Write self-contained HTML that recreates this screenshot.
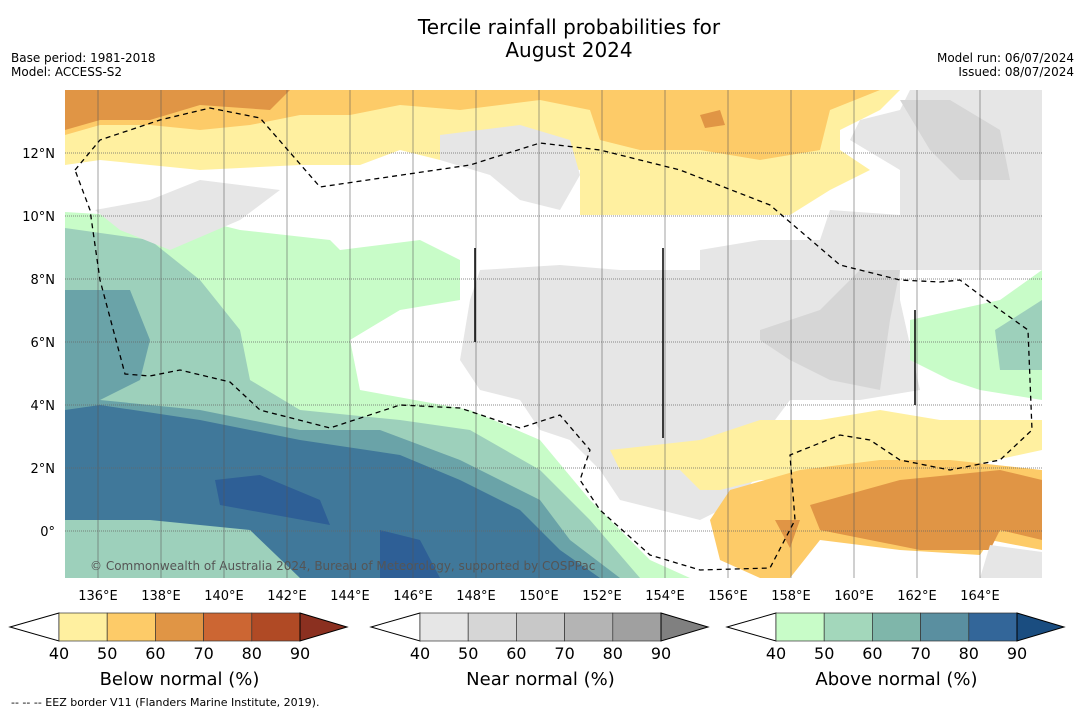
<!DOCTYPE html>
<html><head><meta charset="utf-8"><style>
body{margin:0;background:#fff;font-family:"Liberation Sans","DejaVu Sans",sans-serif;}
svg{display:block}
</style></head><body>
<svg id="s" width="1085" height="713" viewBox="0 0 1085 713" xmlns="http://www.w3.org/2000/svg" font-family="DejaVu Sans, Liberation Sans, sans-serif">
<text x="569" y="34" text-anchor="middle" font-size="20">Tercile rainfall probabilities for</text>
<text x="569" y="57" text-anchor="middle" font-size="20">August 2024</text>
<text x="11" y="62" font-size="12">Base period: 1981-2018</text>
<text x="11" y="76" font-size="12">Model: ACCESS-S2</text>
<text x="1074" y="62" font-size="12" text-anchor="end">Model run: 06/07/2024</text>
<text x="1074" y="76" font-size="12" text-anchor="end">Issued: 08/07/2024</text>
<defs><clipPath id="mc"><rect x="65" y="90" width="977" height="488"/></clipPath></defs>
<g id="map" clip-path="url(#mc)">
<rect x="65" y="90" width="977" height="488" fill="#fff"/>
</g>
<g id="axes"></g>
<g id="cbars"></g>
<text x="11" y="706" font-size="11">--  --  -- EEZ border V11 (Flanders Marine Institute, 2019).</text>
</svg>
<script>
const NS="http://www.w3.org/2000/svg";
const lonTicks=[136,138,140,142,144,146,148,150,152,154,156,158,160,162,164];
const latTicks=[0,2,4,6,8,10,12];
const levels=[40,50,60,70,80,90];
const belowColors=["#fff0a0","#fdcb68","#e09545","#cc6633","#b04a25","#8b3020"];
const nearColors=["#e6e6e6","#d6d6d6","#c8c8c8","#b4b4b4","#a0a0a0","#808080"];
const aboveColors=["#c8fcc8","#a3d7bb","#7fb6aa","#5a8fa0","#336699","#1a4d80"];
const X=lon=>66.5+(lon-135)*31.5;
const Y=lat=>531-lat*31.5;
const map=document.getElementById('map'),axes=document.getElementById('axes'),cb=document.getElementById('cbars');
function poly(g,pts,fill,name){const p=document.createElementNS(NS,'polygon');p.setAttribute('points',pts);p.setAttribute('fill',fill);


g.appendChild(p);return p;}
const regions=[
["65,212 200,220 240,230 330,240 340,250 420,240 460,260 460,300 400,310 350,340 360,390 470,410 540,440 590,500 650,560 690,578 65,578","#c8fcc8","above-40"],
["65,228 150,240 200,280 240,330 250,380 300,410 400,420 470,430 540,470 590,520 640,578 65,578","#9dd0bb","above-50"],
["65,290 130,290 150,340 140,380 100,400 200,410 300,430 380,430 460,460 540,500 570,540 620,578 65,578","#6aa3a8","above-60"],
["65,410 100,405 200,420 300,440 400,455 460,480 520,510 560,550 600,578 65,578","#40789a","above-70"],
["65,520 150,520 250,530 300,578 65,578","#9dd0bb","above-50-sw"],
["215,480 260,475 320,500 330,525 220,505","#2e5f96","above-80-a"],
["380,530 420,540 440,578 380,578","#2e5f96","above-80-b"],
["65,90 900,90 880,110 840,130 840,150 870,170 830,190 790,215 720,215 650,215 580,215 580,170 520,165 490,160 440,160 400,150 360,165 300,165 200,170 150,165 100,160 65,165","#fff0a0","below-40-north"],
["65,90 880,90 830,110 820,150 760,160 700,150 640,150 600,140 590,110 540,100 460,110 400,105 350,115 300,115 250,125 200,130 150,125 100,125 65,135","#fdcb68","below-50-north"],
["65,90 290,90 270,110 200,105 150,120 100,120 65,130","#e09545","below-60-north"],
["700,115 720,110 725,125 705,128","#e09545","below-60-patch"],
["480,270 560,265 620,270 700,270 700,250 760,240 820,240 830,210 900,215 900,170 850,140 860,120 900,110 910,90 1042,90 1042,270 960,270 900,270 900,300 920,390 860,400 790,400 760,440 760,470 740,500 700,520 620,500 600,470 570,440 540,430 520,400 480,390 460,360 470,300","#e6e6e6","near-40-central"],
["440,135 520,125 570,140 580,175 560,210 520,200 490,175 440,160","#e6e6e6","near-40-north"],
["95,210 150,200 200,180 280,190 240,220 170,250 120,230","#e6e6e6","near-40-west"],
["760,330 820,310 860,270 900,270 890,320 880,390 830,380 790,360 760,340","#d6d6d6","near-50-a"],
["900,100 950,100 1000,130 1010,180 960,180 930,150","#d6d6d6","near-50-b"],
["910,320 1000,300 1042,270 1042,400 980,390 950,380 910,360","#c8fcc8","above-40-east"],
["995,330 1042,300 1042,370 1000,370","#9dd0bb","above-50-east"],
["610,450 700,440 760,420 820,420 880,410 940,420 1042,420 1042,450 950,470 900,460 850,470 800,480 760,480 720,490 700,490 680,470 620,470","#fff0a0","below-40-south"],
["730,490 800,470 880,460 950,460 1042,470 1042,550 990,540 980,555 900,550 820,540 790,578 760,578 720,560 710,520","#fdcb68","below-50-south"],
["810,505 900,480 1000,470 1042,480 1042,540 1000,530 990,550 920,550 820,530","#e09545","below-60-south"],
["775,520 800,520 790,548","#e09545","below-60-south-b"],
["990,545 1042,552 1042,578 980,578","#e6e6e6","near-40-se"]
];
regions.forEach(r=>poly(map,r[0],r[1],r[2]));
lonTicks.forEach(lon=>{const l=document.createElementNS(NS,'line');l.setAttribute('x1',X(lon));l.setAttribute('x2',X(lon));l.setAttribute('y1',90);l.setAttribute('y2',578);l.setAttribute('stroke','#555');l.setAttribute('stroke-opacity','0.55');l.setAttribute('stroke-width',1);


map.appendChild(l);});
latTicks.forEach(lat=>{const l=document.createElementNS(NS,'line');l.setAttribute('x1',65);l.setAttribute('x2',1042);l.setAttribute('y1',Y(lat));l.setAttribute('y2',Y(lat));l.setAttribute('stroke','#666');l.setAttribute('stroke-dasharray','1,1');l.setAttribute('stroke-width',0.8);


map.appendChild(l);});
const eez=document.createElementNS(NS,'polyline');
eez.setAttribute('points',"75,170 100,140 160,120 210,108 260,118 320,187 470,165 540,143 600,150 680,170 770,205 840,265 900,280 940,282 960,280 1000,310 1028,330 1032,430 1000,460 950,470 900,460 870,440 840,435 790,455 795,520 770,568 700,570 650,555 600,510 580,480 590,450 560,415 520,428 460,408 400,405 330,428 260,410 230,382 180,370 150,376 125,374 100,280 90,210 75,170");
eez.setAttribute('fill','none');eez.setAttribute('stroke','#000');eez.setAttribute('stroke-width','1.3');eez.setAttribute('stroke-dasharray','5,4');


map.appendChild(eez);
[[475,248,342],[663,248,438],[915,310,405]].forEach(v=>{const l=document.createElementNS(NS,'line');l.setAttribute('x1',v[0]);l.setAttribute('x2',v[0]);l.setAttribute('y1',v[1]);l.setAttribute('y2',v[2]);l.setAttribute('stroke','#000');l.setAttribute('stroke-width',1.5);


map.appendChild(l);});
const cr=document.createElementNS(NS,'text');cr.setAttribute('x',90);cr.setAttribute('y',570);cr.setAttribute('font-size',12);cr.setAttribute('fill','#555');cr.textContent='© Commonwealth of Australia 2024, Bureau of Meteorology, supported by COSPPac';


map.appendChild(cr);
lonTicks.forEach(lon=>{const t=document.createElementNS(NS,'text');t.setAttribute('x',X(lon));t.setAttribute('y',600);t.setAttribute('text-anchor','middle');t.setAttribute('font-size',13);t.textContent=lon+'°E';


axes.appendChild(t);});
latTicks.forEach(lat=>{const t=document.createElementNS(NS,'text');t.setAttribute('x',55);t.setAttribute('y',Y(lat)+5);t.setAttribute('text-anchor','end');t.setAttribute('font-size',13);t.textContent=lat==0?'0°':lat+'°N';


axes.appendChild(t);});
function bar(x0,colors,title,name){const w=48.2,y0=613,h=28;const g=document.createElementNS(NS,'g');


cb.appendChild(g);
poly(g,`${x0},${y0} ${x0-49},${y0+h/2} ${x0},${y0+h}`,'#fff','low-extend').setAttribute('stroke','#000');
for(let i=0;i<5;i++){const r=document.createElementNS(NS,'rect');r.setAttribute('x',x0+i*w);r.setAttribute('y',y0);r.setAttribute('width',w);r.setAttribute('height',h);r.setAttribute('fill',colors[i]);r.setAttribute('stroke','#333');r.setAttribute('stroke-width',0.7);


g.appendChild(r);}
const xe=x0+5*w;poly(g,`${xe},${y0} ${xe+47},${y0+h/2} ${xe},${y0+h}`,colors[5],'high-extend').setAttribute('stroke','#000');
levels.forEach((lv,i)=>{const t=document.createElementNS(NS,'text');t.setAttribute('x',x0+i*w);t.setAttribute('y',659);t.setAttribute('text-anchor','middle');t.setAttribute('font-size',16);t.textContent=lv;


g.appendChild(t);});
const t=document.createElementNS(NS,'text');t.setAttribute('x',x0+2.5*w);t.setAttribute('y',685);t.setAttribute('text-anchor','middle');t.setAttribute('font-size',18);t.textContent=title;


g.appendChild(t);}
bar(59,belowColors,'Below normal (%)','below-normal-colorbar');
bar(420,nearColors,'Near normal (%)','near-normal-colorbar');
bar(776,aboveColors,'Above normal (%)','above-normal-colorbar');
</script>
</body></html>
